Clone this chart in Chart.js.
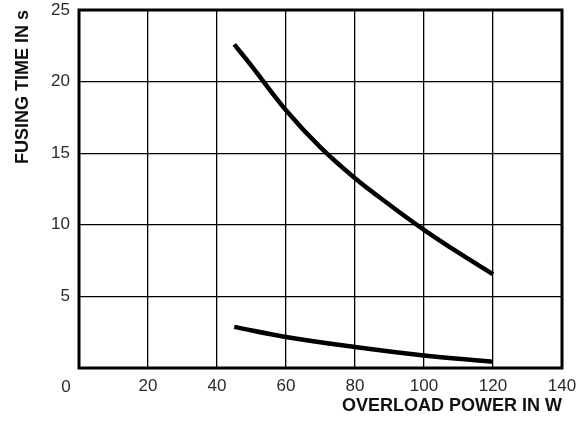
<!DOCTYPE html>
<html>
<head>
<meta charset="utf-8">
<script src="https://cdn.jsdelivr.net/npm/chart.js@4.4.1/dist/chart.umd.min.js"></script>
<style>
   html, body { margin: 0; padding: 0; background: #fff; }
   #wrap { width: 586px; height: 426px; }
</style>
</head>
<body>
<div id="wrap"><canvas id="fusing-graph"></canvas></div>
<script>
// values
const upperPower = [45, 50, 60, 70, 80, 90, 100, 110, 120]
const upperTime = [22.6, 21.1, 18.0, 15.4, 13.25, 11.4, 9.65, 8.05, 6.55]
const lowerPower = [45, 60, 80, 100, 120]
const lowerTime = [2.87, 2.17, 1.47, 0.88, 0.44]
const xTicks = [0, 20, 40, 60, 80, 100, 120, 140]
const yTicks = [0, 5, 10, 15, 20, 25]

const fontFamily = '"Liberation Sans", Arial, sans-serif'
const textColor = '#2a2a2a'

const toPoints = (xs, ys) => xs.map((x, i) => ({ x: x, y: ys[i] }))

// frame around the plot + the "0" that sits left of the corner
const framePlugin = {
   id: 'frame',
   afterDraw(chart) {
      const { ctx, chartArea, scales } = chart
      ctx.save()
      ctx.strokeStyle = '#000'
      ctx.lineWidth = 3
      ctx.strokeRect(chartArea.left, chartArea.top, chartArea.right - chartArea.left, chartArea.bottom - chartArea.top)
      ctx.fillStyle = textColor
      ctx.font = '17px ' + fontFamily
      ctx.textAlign = 'center'
      ctx.textBaseline = 'middle'
      ctx.fillText('0', scales.x.getPixelForValue(0) - 13, chartArea.bottom + 19)
      ctx.restore()
   }
}

function fixX(scale) {
   scale.height = 58
   scale.paddingLeft = 0
   scale.paddingRight = 0
}

function fixY(scale) {
   scale.width = 79
   scale.paddingTop = 0
   scale.paddingBottom = 0
}

new Chart(document.getElementById('fusing-graph'), {
   type: 'scatter',
   data: {
      datasets: [
         {
            data: toPoints(upperPower, upperTime),
            showLine: true,
            borderColor: '#000',
            borderWidth: 4.5,
            pointRadius: 0,
            tension: 0.4
         },
         {
            data: toPoints(lowerPower, lowerTime),
            showLine: true,
            borderColor: '#000',
            borderWidth: 4.5,
            pointRadius: 0,
            tension: 0.4
         }
      ]
   },
   plugins: [framePlugin],
   options: {
      responsive: true,
      maintainAspectRatio: false,
      animation: false,
      layout: { padding: { top: 10, right: 24, left: 0, bottom: 0 } },
      plugins: {
         legend: { display: false },
         tooltip: { enabled: false }
      },
      scales: {
         x: {
            type: 'linear',
            min: 0,
            max: 140,
            afterFit: fixX,
            afterBuildTicks: (scale) => { scale.ticks = xTicks.map(v => ({ value: v })) },
            grid: { color: '#000', lineWidth: 1.3, drawTicks: false },
            border: { display: false },
            ticks: {
               padding: 8,
               color: textColor,
               font: { family: fontFamily, size: 17 },
               callback: (v) => v === 0 ? '' : v
            },
            title: {
               display: true,
               text: 'OVERLOAD POWER IN W',
               align: 'end',
               color: '#111',
               font: { family: fontFamily, size: 18, weight: 'bold' },
               padding: { top: 0, bottom: 9 }
            }
         },
         y: {
            type: 'linear',
            min: 0,
            max: 25,
            afterFit: fixY,
            afterBuildTicks: (scale) => { scale.ticks = yTicks.map(v => ({ value: v })) },
            grid: { color: '#000', lineWidth: 1.3, drawTicks: false },
            border: { display: false },
            ticks: {
               padding: 9,
               color: textColor,
               font: { family: fontFamily, size: 17 },
               callback: (v) => v === 0 ? '' : v
            },
            title: {
               display: true,
               text: 'FUSING TIME IN s',
               align: 'end',
               color: '#111',
               font: { family: fontFamily, size: 18, weight: 'bold' },
               padding: { top: 12, bottom: 0 }
            }
         }
      }
   }
})
</script>
</body>
</html>
